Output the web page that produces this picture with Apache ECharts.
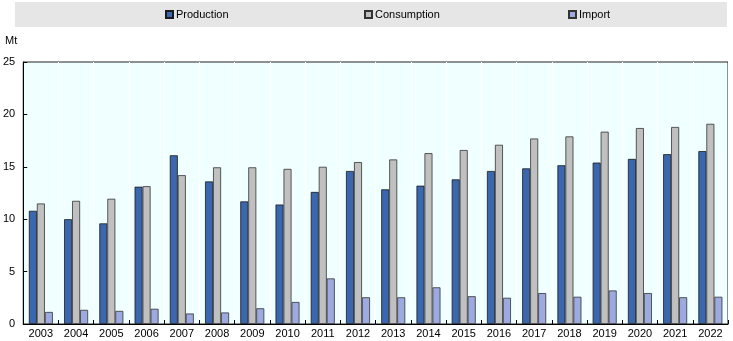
<!DOCTYPE html>
<html>
<head>
<meta charset="utf-8">
<script src="https://cdn.jsdelivr.net/npm/echarts@6/dist/echarts.min.js"></script>
<style>html,body{margin:0;padding:0;background:#fff;}#c{width:733px;height:341px;}</style>
</head>
<body>
<div id="c"></div>
<script>
const years = ['2003','2004','2005','2006','2007','2008','2009','2010','2011','2012','2013','2014','2015','2016','2017','2018','2019','2020','2021','2022'];
const production = [10.8,10.0,9.6,13.1,16.1,13.6,11.7,11.4,12.6,14.6,12.85,13.2,13.8,14.6,14.85,15.15,15.4,15.75,16.2,16.5];
const consumption = [11.5,11.75,11.95,13.15,14.2,14.95,14.95,14.8,15.0,15.45,15.7,16.3,16.6,17.1,17.7,17.9,18.35,18.7,18.8,19.1];
const importVals = [1.15,1.35,1.25,1.45,1.0,1.1,1.5,2.1,4.35,2.55,2.55,3.5,2.65,2.5,2.95,2.6,3.2,2.95,2.55,2.6];
const yTicks = [0,5,10,15,20,25];

const FONT = "'Liberation Sans', Arial, sans-serif";
const chart = echarts.init(document.getElementById('c'), null, {renderer:'canvas'});
const legendBase = {top: 4, itemWidth: 7, itemHeight: 7, itemGap: 3, icon: 'rect',
  textStyle: {fontFamily: FONT, fontSize: 11, color: '#000', padding:[0,0,0,-2]}, selectedMode: false};
chart.setOption({
  animation: false,
  graphic: [
    {type:'rect', shape:{x:15, y:2, width:712, height:25}, style:{fill:'#E6E6E6'}, silent:true, z:-10},
    {type:'text', left: 5, top: 35, style:{text:'Mt', font:"11px 'Liberation Sans', Arial, sans-serif", fill:'#000'}}
  ],
  legend: [
    Object.assign({}, legendBase, {left: 160, data:['Production']}),
    Object.assign({}, legendBase, {left: 359, data:['Consumption']}),
    Object.assign({}, legendBase, {left: 563, data:['Import']})
  ],
  grid: {left: 23, right: 5, top: 62, bottom: 17, show: true, backgroundColor: '#F0FFFF', borderColor: '#222', borderWidth: 1},
  xAxis: {
    type: 'category', data: years,
    axisLine: {lineStyle: {color: '#000', width: 1}},
    axisTick: {show: true, inside: true, length: 4, lineStyle: {color: '#000'}},
    axisLabel: {fontFamily: FONT, fontSize: 11, color: '#000', margin: 4},
    splitLine: {show: true, lineStyle: {color: '#FFFFFF', width: 1}}
  },
  yAxis: {
    type: 'value', min: 0, max: 25, interval: 5,
    axisLine: {show: true, lineStyle: {color: '#000', width: 1}},
    axisTick: {show: true, inside: true, length: 4, lineStyle: {color: '#000'}},
    axisLabel: {fontFamily: FONT, fontSize: 11, color: '#000', margin: 8,
      formatter: v => yTicks.includes(v) ? String(v) : ''},
    splitLine: {show: false}
  },
  series: [
    {name:'Production', type:'bar', data: production, barWidth: 8, barGap: '0%',
      itemStyle:{color:'#3A67AE', borderColor:'#1a1a1a', borderWidth:0.8}},
    {name:'Consumption', type:'bar', data: consumption, barWidth: 8, barGap: '0%',
      itemStyle:{color:'#C0C0C0', borderColor:'#333', borderWidth:0.8}},
    {name:'Import', type:'bar', data: importVals, barWidth: 8, barGap: '0%',
      itemStyle:{color:'#9DAAE0', borderColor:'#333', borderWidth:0.8}}
  ]
});
</script>
</body>
</html>
